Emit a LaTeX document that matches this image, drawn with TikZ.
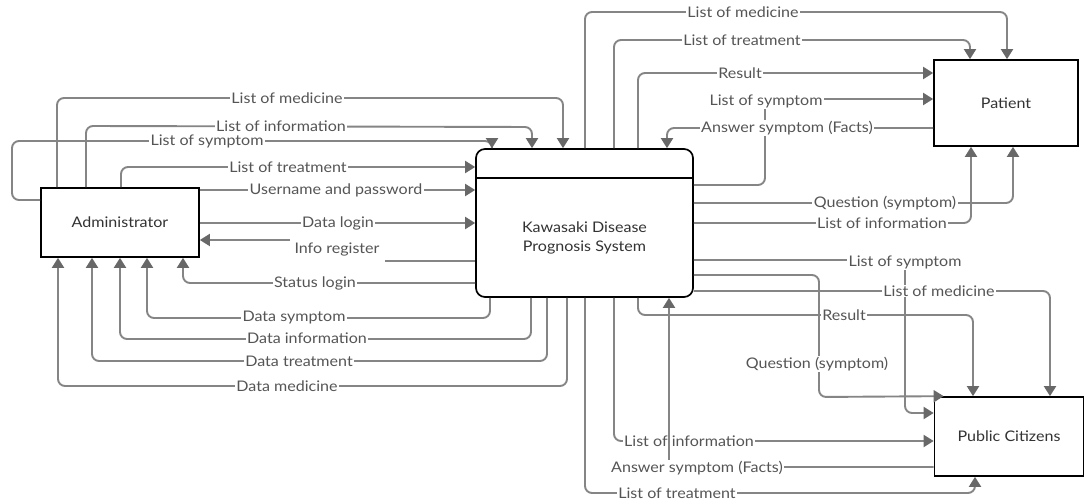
\documentclass[tikz,border=0pt]{standalone}
\usepackage{fontspec}
\setmainfont{Lato}[FakeStretch=1.1]
\usetikzlibrary{arrows.meta}
\definecolor{linegray}{HTML}{858585}
\definecolor{arrowgray}{HTML}{686868}
\definecolor{labeltext}{HTML}{555555}
\definecolor{boxtext}{HTML}{333333}
\tikzset{
  flow/.style={draw=linegray, line width=1.9pt, rounded corners=7pt,
    -{Triangle[length=10pt,width=12pt,color=arrowgray]}},
  plainline/.style={draw=linegray, line width=1.9pt, rounded corners=7pt},
  lbl/.style={fill=white, text=labeltext, inner xsep=1.5pt, inner ysep=1pt, font=\fontsize{14.6}{16}\selectfont},
  entity/.style={draw=black, line width=1.7pt, fill=white, text=boxtext, font=\fontsize{14.6}{16}\selectfont, inner sep=0pt},
}
\begin{document}
\begin{tikzpicture}[x=1pt,y=-1pt]
\useasboundingbox (0,0) rectangle (1085,502);
\fill[white] (0,0) rectangle (1085,502);

% entities
\node[entity, minimum width=158, minimum height=69] (adm) at (120,222.5) {Administrator};
\node[entity, rounded corners=9pt, minimum width=217, minimum height=148, align=center] (sys) at (584.5,223) {};
\node[text=boxtext, align=center, font=\fontsize{14.6}{19.5}\selectfont] (systxt) at (584.5,238) {Kawasaki Disease\\Prognosis System};
\draw[line width=1.7pt] (sys.west |- 0,178) -- (sys.east |- 0,178);
\node[entity, minimum width=144, minimum height=86] (pat) at (1006,103) {Patient};
\node[entity, minimum width=149, minimum height=79] (pub) at (1009,436.5) {Public Citizens};

% Administrator -> System
\draw[flow] (adm.north -| 57,0) -- (57,98) -- (563,98) -- (sys.north -| 563,0);
\node[lbl] (l1) at (287,98) {List of medicine};
\draw[flow] (adm.north -| 86,0) -- (86,126) -- (532,127) -- (sys.north -| 532,0);
\node[lbl] (l2) at (281,126) {List of information};
\draw[flow] (adm.west |- 0,200) -- (12,200) -- (12,141) -- (492,141) -- (sys.north -| 492,0);
\node[lbl] (l3) at (207,141) {List of symptom};
\draw[flow] (adm.north -| 121,0) -- (121,167) -- (sys.west |- 0,167);
\node[lbl] (l4) at (288,167) {List of treatment};
\draw[flow] (adm.east |- 0,190) -- (sys.west |- 0,190);
\node[lbl] (l5) at (336,190) {Username and password};
\draw[flow] (adm.east |- 0,223) -- (sys.west |- 0,223);
\node[lbl] (l6) at (338,223) {Data login};

% System -> Administrator
\coordinate (irend) at (385,261);
\coordinate (irstart) at (290,240);
\draw[plainline] (sys.west |- 0,261) -- (irend);
\node[lbl, fill=none] (l7) at (337,250) {Info register};
\draw[flow] (irstart) -- (adm.east |- 0,240);
\draw[flow] (sys.west |- 0,283) -- (183,283) -- (adm.south -| 183,0);
\node[lbl] (l8) at (315,283) {Status login};
\draw[flow] (sys.south -| 490,0) -- (490,318) -- (147,318) -- (adm.south -| 147,0);
\node[lbl] (l9) at (294,318) {Data symptom};
\draw[flow] (sys.south -| 531,0) -- (531,339) -- (120,339) -- (adm.south -| 120,0);
\node[lbl] (l10) at (307,338) {Data information};
\draw[flow] (sys.south -| 547,0) -- (547,361) -- (92,361) -- (adm.south -| 92,0);
\node[lbl] (l11) at (299,361) {Data treatment};
\draw[flow] (sys.south -| 567,0) -- (567,386) -- (58,386) -- (adm.south -| 58,0);
\node[lbl] (l12) at (287,386) {Data medicine};

% System <-> Patient
\draw[flow] (sys.north -| 585,0) -- (585,12) -- (1007,12) -- (pat.north -| 1007,0);
\node[lbl] (l13) at (743,12) {List of medicine};
\draw[flow] (sys.north -| 614,0) -- (614,40) -- (970,40) -- (pat.north -| 970,0);
\node[lbl] (l14) at (742,40) {List of treatment};
\draw[flow] (sys.north -| 638,0) -- (638,73) -- (pat.west |- 0,73);
\node[lbl] (l15) at (740,73) {Result};
\draw[flow] (sys.east |- 0,185) -- (765,185) -- (765,99) -- (pat.west |- 0,99);
\node[lbl] (l16) at (766,101) {List of symptom};
\draw[flow] (pat.west |- 0,128) -- (667,128) -- (sys.north -| 667,0);
\node[lbl] (l17) at (787,128) {Answer symptom (Facts)};
\draw[flow] (sys.east |- 0,203) -- (1013,203) -- (pat.south -| 1013,0);
\node[lbl] (l18) at (885,203) {Question (symptom)};
\draw[flow] (sys.east |- 0,223) -- (971,223) -- (pat.south -| 971,0);
\node[lbl] (l19) at (882,223) {List of information};

% System <-> Public Citizens
\draw[flow] (sys.east |- 0,260) -- (905,260) -- (905,413) -- (pub.west |- 0,413);
\node[lbl] (l20) at (905,262) {List of symptom};
\draw[flow] (sys.east |- 0,275) -- (819,275) -- (819,397) -- ([xshift=10pt]pub.north west);
\node[lbl] (l21) at (817,364) {Question (symptom)};
\draw[flow] (sys.east |- 0,291) -- (1050,291) -- (pub.north -| 1050,0);
\node[lbl] (l22) at (939,291) {List of medicine};
\draw[flow] (sys.south -| 638,0) -- (638,315) -- (973,315) -- (pub.north -| 973,0);
\node[lbl] (l23) at (844,315) {Result};
\draw[flow] (sys.south -| 614,0) -- (614,441) -- (pub.west |- 0,441);
\node[lbl] (l24) at (689,441) {List of information};
\draw[flow] (pub.west |- 0,467) -- (669,467) -- (sys.south -| 669,0);
\node[lbl] (l25) at (697,468) {Answer symptom (Facts)};
\draw[flow] (sys.south -| 585,0) -- (585,493) -- (975,493) -- (pub.south -| 975,0);
\node[lbl] (l26) at (677,493) {List of treatment};
\end{tikzpicture}
\end{document}
